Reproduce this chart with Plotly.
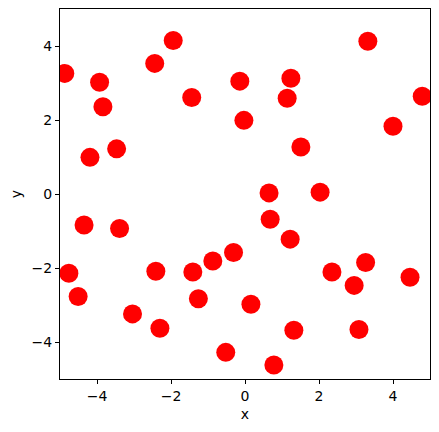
import plotly.graph_objects as go

x_vals = [-4.87, -3.93, -3.84, -2.44, -1.94, -1.44, -4.19, -3.47, 3.32, -0.14,
          1.24, 1.14, 4.79, -0.03, 4.00, 1.51, 0.65, 2.03, 0.68, -4.35,
          -3.39, -4.76, -4.51, -2.41, -1.41, -0.87, -1.26, -3.04, -2.30, -0.52,
          -0.31, 1.22, 2.35, 3.26, 2.95, 4.46, 0.16, 1.32, 3.08, 0.78]
y_vals = [3.26, 3.02, 2.36, 3.53, 4.15, 2.61, 0.99, 1.22, 4.13, 3.05,
          3.13, 2.59, 2.64, 1.99, 1.83, 1.27, 0.03, 0.05, -0.68, -0.84,
          -0.93, -2.14, -2.77, -2.09, -2.11, -1.81, -2.83, -3.24, -3.63, -4.28,
          -1.58, -1.22, -2.11, -1.85, -2.47, -2.25, -2.98, -3.68, -3.66, -4.62]
tick_vals = [-4, -2, 0, 2, 4]
tick_text = ["\u22124", "\u22122", "0", "2", "4"]

fig = go.Figure(go.Scatter(
    x=x_vals, y=y_vals, mode="markers",
    marker=dict(color="red", size=19, line=dict(width=0)),
    cliponaxis=True,
))

axis_common = dict(
    range=[-5, 5], showgrid=False, zeroline=False,
    showline=True, linecolor="black", linewidth=1, mirror=True,
    ticks="outside", ticklen=4, tickcolor="black", tickwidth=1,
    tickvals=tick_vals, ticktext=tick_text,
    tickfont=dict(family="DejaVu Sans", size=14, color="black"),
    title_font=dict(family="DejaVu Sans", size=14, color="black"),
)

# page body has an 8px margin, so the figure is offset by (8, 8)
fig.update_layout(
    width=423, height=416,
    margin=dict(l=52, r=1, t=1, b=45),
    paper_bgcolor="white", plot_bgcolor="white",
    showlegend=False,
    xaxis=dict(title=dict(text="x", standoff=6), **axis_common),
    yaxis=dict(title=dict(text="y", standoff=8), **axis_common),
)

fig.write_html("out.html")
